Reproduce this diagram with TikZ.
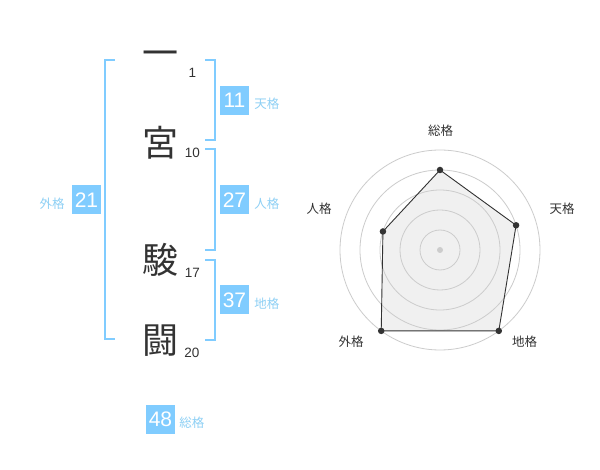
\documentclass[tikz,border=0pt]{standalone}
\usepackage{fontspec}
\setmainfont{Liberation Sans}
\newfontfamily\jpfont{Noto Sans CJK JP}
\usetikzlibrary{positioning, calc}
\definecolor{kakublue}{HTML}{80CCFF}
\definecolor{kakulabel}{HTML}{8ED0F5}
\definecolor{inkgray}{HTML}{333333}
\definecolor{ringgray}{HTML}{CCCCCC}
\definecolor{areagray}{HTML}{F0F0F0}

\begin{document}
\begin{tikzpicture}[
        x=1pt, y=-1pt,
        kanji/.style={inner sep=0pt, text=inkgray, font=\jpfont\fontsize{36}{36}\selectfont},
        strokes/.style={inner sep=0pt, text=inkgray, font=\fontsize{13.5}{13.5}\selectfont},
        kakubox/.style={fill=kakublue, text=white, minimum size=29pt, inner sep=0pt, font=\fontsize{21}{21}\selectfont},
        kakuname/.style={inner sep=0pt, yshift=-3.5pt, text=kakulabel, font=\jpfont\fontsize{12.5}{12.5}\selectfont},
        bracket/.style={draw=kakublue, line width=2pt},
        axisname/.style={inner sep=0pt, text=inkgray, font=\jpfont\fontsize{12.5}{12.5}\selectfont},
        ring/.style={draw=ringgray, line width=0.8pt},
        dot/.style={circle, fill=inkgray, inner sep=0pt, minimum size=6.5pt}
    ]
        \useasboundingbox[fill=white] (0,0) rectangle (600,470);

        % name characters and stroke counts
        \node[kanji] (ichi) at (160,59) {一};
        \node[kanji] (miya) at (160,142.5) {宮};
        \node[kanji] (shun) at (160,260) {駿};
        \node[kanji] (tou) at (160,340.5) {闘};
        \node[strokes] (ichin) at (192.5,72.5) {1};
        \node[strokes] (miyan) at (192.5,153) {10};
        \node[strokes] (shunn) at (192.5,273) {17};
        \node[strokes] (toun) at (192,353) {20};

        % brackets
        \draw[bracket] (115,60.3) -- (105,60.3) -- (105,339) -- (115,339);
        \draw[bracket] (205,60.3) -- (214.5,60.3) -- (214.5,139.7) -- (205,139.7);
        \draw[bracket] (205,149.3) -- (214.5,149.3) -- (214.5,249.7) -- (205,249.7);
        \draw[bracket] (205,260.3) -- (214.5,260.3) -- (214.5,339.7) -- (205,339.7);

        % kaku values
        \node[kakubox] (ten) at (234.5,100.5) {11};
        \node[kakubox] (jin) at (234.5,200) {27};
        \node[kakubox] (gai) at (86.5,200) {21};
        \node[kakubox] (chi) at (234.5,300) {37};
        \node[kakubox] (sou) at (160.5,419) {48};
        \node[kakuname, right=5pt of ten] {天格};
        \node[kakuname, right=5pt of jin] {人格};
        \node[kakuname, left=7pt of gai] {外格};
        \node[kakuname, right=4pt of sou] {総格};
        \node[kakuname, right=5pt of chi] {地格};

        % radar chart
        \coordinate (center) at (440,250);
        \coordinate (rsou) at ($(center)+(90:80pt)$);
        \coordinate (rten) at ($(center)+(18:80pt)$);
        \coordinate (rchi) at ($(center)+(-54:100pt)$);
        \coordinate (rgai) at ($(center)+(-126:100pt)$);
        \coordinate (rjin) at ($(center)+(162:60pt)$);
        \fill[areagray] (rsou) -- (rten) -- (rchi) -- (rgai) -- (rjin) -- cycle;
        \foreach \r in {20,40,60,80,100}
            \draw[ring] (center) circle[radius=\r pt];
        \fill[ringgray] (center) circle[radius=3pt];
        \draw[inkgray, line width=0.9pt] (rsou) -- (rten) -- (rchi) -- (rgai) -- (rjin) -- cycle;
        \foreach \p in {rsou,rten,rchi,rgai,rjin}
            \node[dot] at (\p) {};

        \node[axisname] (asou) at (440.5,130.5) {総格};
        \node[axisname] (aten) at (562,208.5) {天格};
        \node[axisname] (achi) at (524.5,342) {地格};
        \node[axisname] (agai) at (351,342) {外格};
        \node[axisname] (ajin) at (319,208.5) {人格};
    \end{tikzpicture}
\end{document}
